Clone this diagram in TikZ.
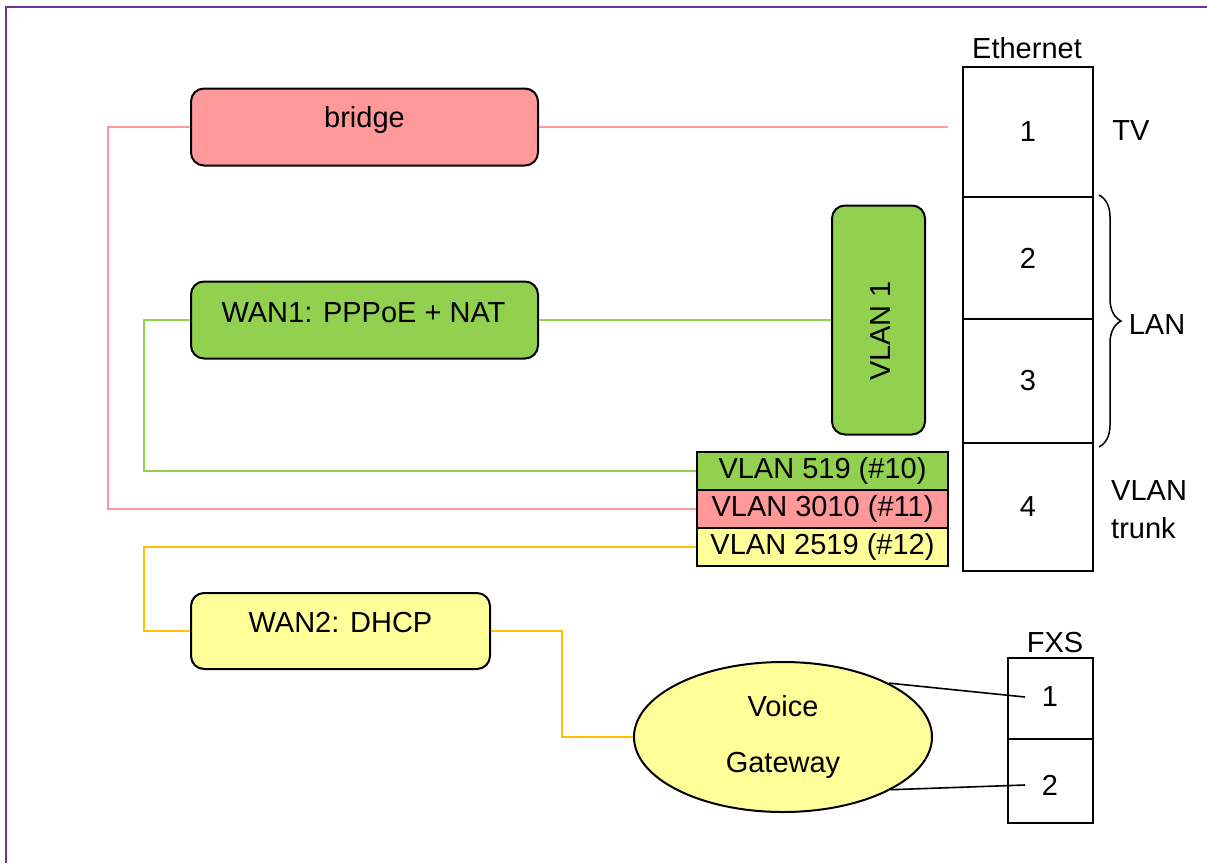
\documentclass[tikz,border=0pt]{standalone}
\usepackage{fontspec}
\setmainfont{Liberation Sans}
\usetikzlibrary{decorations.pathreplacing,shapes.geometric}
\definecolor{pinkc}{HTML}{FF9999}
\definecolor{greenc}{HTML}{92D050}
\definecolor{yelc}{HTML}{FFFF99}
\definecolor{orc}{HTML}{FFC000}
\definecolor{purp}{HTML}{7030A0}
\begin{document}
\begin{tikzpicture}[x=1pt,y=-1pt,
  font=\fontsize{29}{35}\selectfont,
  rbox/.style={draw=black, line width=2pt, rounded corners=13pt, inner sep=0pt},
  cell/.style={draw=black, line width=2pt, inner sep=0pt},
  txt/.style={inner sep=0pt},
  link/.style={line width=2pt},
  plink/.style={link, draw=pinkc},
  glink/.style={link, draw=greenc},
  olink/.style={link, draw=orc},
  blink/.style={line width=1.6pt, draw=black}]
\useasboundingbox (0,0) rectangle (1207,863);
% frame
\draw[purp, line width=2.5pt] (6,863) -- (6,7) -- (1207,7);

% rounded boxes
\node[rbox, fill=pinkc, minimum width=347pt, minimum height=77pt] (bridge) at (364.5,127) {};
\node[txt, yshift=7pt] (bridgeT) at (bridge) {bridge};
\node[rbox, fill=greenc, minimum width=347pt, minimum height=77pt] (wan1) at (364.5,320) {};
\node[txt, yshift=7pt, xshift=-1pt] (wan1T) at (wan1) {WAN1: PPPoE + NAT};
\node[rbox, fill=yelc, minimum width=299pt, minimum height=76pt] (wan2) at (340.5,631) {};
\node[txt, yshift=8pt] (wan2T) at (wan2) {WAN2: DHCP};
\node[rbox, fill=greenc, minimum width=93pt, minimum height=229pt] (vlan1) at (878.5,320) {};
\node[txt, rotate=90, xshift=-11pt, yshift=-2pt] (vlan1T) at (vlan1) {VLAN 1};

% VLAN tag cells
\node[cell, fill=greenc, minimum width=251pt, minimum height=38pt] (v519) at (822.5,471) {VLAN 519 (\#10)};
\node[cell, fill=pinkc, minimum width=251pt, minimum height=38pt] (v3010) at (822.5,509) {VLAN 3010 (\#11)};
\node[cell, fill=yelc, minimum width=251pt, minimum height=38pt] (v2519) at (822.5,547) {VLAN 2519 (\#12)};

% Ethernet ports
\node[cell, minimum width=130pt, minimum height=130pt] (e1) at (1028,132) {1};
\node[cell, minimum width=130pt, minimum height=122pt] (e2) at (1028,258) {2};
\node[cell, minimum width=130pt, minimum height=124pt] (e3) at (1028,381) {3};
\node[cell, minimum width=130pt, minimum height=128pt] (e4) at (1028,507) {4};
\node[txt] (ethT) at (1027,48) {Ethernet};
\node[txt] (tv) at (1131,131) {TV};
\node[txt] (lan) at (1157,325) {LAN};
\node[txt, align=left, anchor=west, font=\fontsize{29}{38}\selectfont] (trunk) at (1111,510) {VLAN\\trunk};
\draw[line width=1.5pt, decorate, decoration={brace, amplitude=22pt}] (1099,195) -- (1099,447);

% FXS
\node[cell, minimum width=85pt, minimum height=81pt] (f1) at (1050.5,698.5) {};
\node[cell, minimum width=85pt, minimum height=84pt] (f2) at (1050.5,781) {};
\node[txt] (f1T) at (1050,697) {1};
\node[txt] (f2T) at (1050,785) {2};
\node[txt] (fxsT) at (1055,643) {FXS};

% voice gateway
\node[ellipse, draw=black, line width=2pt, fill=yelc, minimum width=298pt, minimum height=150pt, inner sep=0pt, align=center, font=\fontsize{29}{56}\selectfont] (vg) at (783,737) {Voice\\Gateway};

% connectors
\coordinate (bEnd) at (948,127);
\draw[plink] (bridge.east) -- (bEnd);
\draw[plink] (bridge.west) -- (108,127) |- (v3010.west);
\draw[glink] (wan1.east) -- (vlan1.west);
\draw[glink] (wan1.west) -- (144,320) |- (v519.west);
\draw[olink] (v2519.west) -- (144,547) |- (wan2.west);
\draw[olink] (wan2.east) -- (562,631) |- (vg.west);
\coordinate (f1End) at (1025,697);
\coordinate (f2End) at (1025,785);
\draw[blink] (vg.27) -- (f1End);
\draw[blink] (vg.-26) -- (f2End);
\end{tikzpicture}
\end{document}
